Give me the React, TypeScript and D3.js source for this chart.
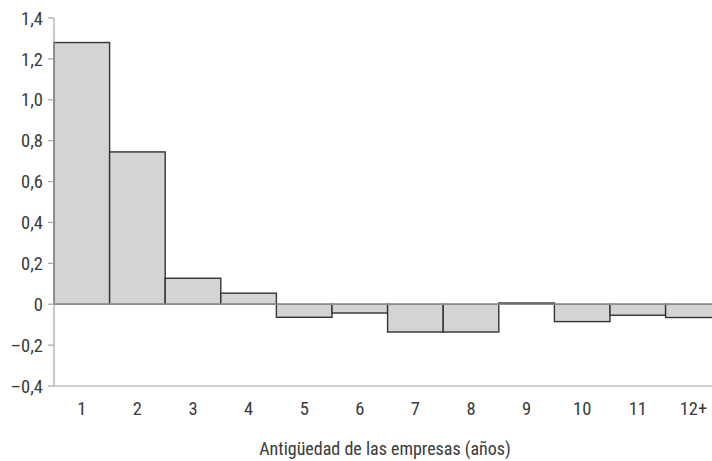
import React from "react";
import * as d3 from "d3";

const categories = ["1", "2", "3", "4", "5", "6", "7", "8", "9", "10", "11", "12+"];
const values = [1.28, 0.745, 0.127, 0.054, -0.064, -0.043, -0.136, -0.136, 0.006, -0.085, -0.054, -0.065];
const yTicks = [-0.4, -0.2, 0, 0.2, 0.4, 0.6, 0.8, 1.0, 1.2, 1.4];
const xTitle = "Antigüedad de las empresas (años)";

const W = 712;
const H = 461;
const FONT = "'Liberation Sans Narrow', 'Roboto Condensed', 'Arial Narrow', Roboto, sans-serif";

function fmt(v: number): string {
  if (Math.abs(v) < 1e-9) return "0";
  const s = Math.abs(v).toFixed(1).replace(".", ",");
  return v < 0 ? "\u2013" + s : s;
}

export default function App() {
  const x = d3.scaleBand<string>().domain(categories).range([54, 54 + 12 * 55.6]).padding(0);
  const y = d3.scaleLinear().domain([-0.4, 1.4]).range([386, 18]);
  const axisColor = "#a6a6a6";
  const textColor = "#3a3a3a";
  return (
    <svg width={W} height={H} style={{ position: "absolute", left: 0, top: 0, background: "#fff" }}>
      {categories.map((c, i) => {
        const v = values[i];
        const y0 = y(Math.max(0, v));
        const y1 = y(Math.min(0, v));
        return (
          <rect
            key={c}
            x={x(c)}
            y={y0}
            width={x.bandwidth()}
            height={Math.max(0.5, y1 - y0)}
            fill="#d4d4d6"
            stroke="#333"
            strokeWidth={1.4}
          />
        );
      })}
      <line x1={54} x2={W} y1={y(0)} y2={y(0)} stroke={axisColor} strokeWidth={1.2} />
      <line x1={54} x2={54} y1={y(1.4)} y2={y(-0.4)} stroke={axisColor} strokeWidth={1.2} />
      <line x1={54} x2={W} y1={y(-0.4)} y2={y(-0.4)} stroke={axisColor} strokeWidth={1.2} />
      {yTicks.map((t) => (
        <g key={t}>
          <line x1={48} x2={54} y1={y(t)} y2={y(t)} stroke={axisColor} strokeWidth={1.2} />
          <text
            x={43}
            y={y(t)}
            dy="0.36em"
            textAnchor="end"
            fontFamily={FONT}
            fontSize={18.5}
            fill={textColor}
          >
            {fmt(t)}
          </text>
        </g>
      ))}
      {categories.map((c) => (
        <text
          key={c}
          x={(x(c) as number) + x.bandwidth() / 2}
          y={414.5}
          textAnchor="middle"
          fontFamily={FONT}
          fontSize={18.5}
          fill={textColor}
        >
          {c}
        </text>
      ))}
      <text x={385} y={455} textAnchor="middle" fontFamily={FONT} fontSize={18} fill={textColor}>
        {xTitle}
      </text>
    </svg>
  );
}
